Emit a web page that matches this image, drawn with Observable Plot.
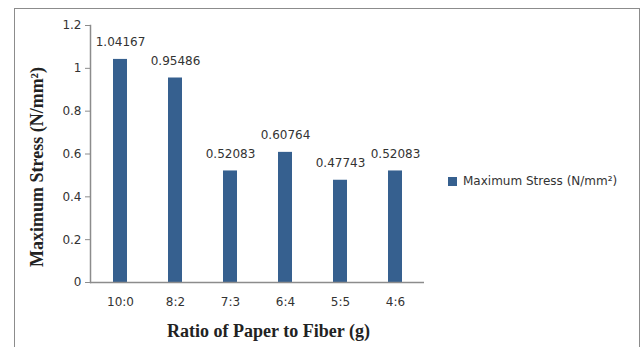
<!DOCTYPE html>
<html>
<head>
<meta charset="utf-8">
<script src="https://cdn.jsdelivr.net/npm/d3@7"></script>
<script src="https://cdn.jsdelivr.net/npm/@observablehq/plot@0.6"></script>
<style>
  body { margin: 0; background: #fff; }
  #wrap { position: relative; width: 641px; height: 347px; overflow: hidden; }
  #border { position: absolute; left: 14px; top: 8px; width: 624px; height: 400px; border: 1px solid #8c8c8c; pointer-events: none; }
  #legend { position: absolute; left: 448px; top: 174px; font: 12px "DejaVu Sans", sans-serif; color: #333; display: flex; align-items: center; }
  #legend .sw { width: 9px; height: 9px; margin-right: 6px; }
</style>
</head>
<body>
<div id="wrap">
  <div id="chart"></div>
  <div id="border"></div>
  <div id="legend"><span class="sw"></span><span class="lt"></span></div>
</div>
<script>
const categories = ["10:0", "8:2", "7:3", "6:4", "5:5", "4:6"];
const stress = [1.04167, 0.95486, 0.52083, 0.60764, 0.47743, 0.52083];
const valueLabels = ["1.04167", "0.95486", "0.52083", "0.60764", "0.47743", "0.52083"];
const yTicks = [0, 0.2, 0.4, 0.6, 0.8, 1, 1.2];
const yTickLabels = ["0", "0.2", "0.4", "0.6", "0.8", "1", "1.2"];
const seriesName = "Maximum Stress (N/mm²)";
const xTitle = "Ratio of Paper to Fiber (g)";
const yTitle = "Maximum Stress (N/mm²)";
const barColor = "#36608F";

const data = categories.map((c, i) => ({cat: c, v: stress[i], lab: valueLabels[i]}));
const tickFmt = new Map(yTicks.map((t, i) => [t, yTickLabels[i]]));

const plot = Plot.plot({
  width: 641,
  height: 347,
  marginLeft: 90,
  marginRight: 217,
  marginTop: 25,
  marginBottom: 65,
  style: {fontFamily: "DejaVu Sans, sans-serif", fontSize: "12px", color: "#333", background: "transparent"},
  x: {domain: categories, paddingInner: 0.75, paddingOuter: 0.375, align: 0.5},
  y: {domain: [0, 1.2]},
  marks: [
    Plot.barY(data, {x: "cat", y: "v", fill: barColor}),
    Plot.ruleY([0], {stroke: "#8c8c8c", strokeWidth: 1.5}),
    Plot.axisY({ticks: yTicks, tickFormat: d => tickFmt.get(d), tickSize: 5, tickPadding: 4, stroke: "#8c8c8c", label: null, fontSize: 12}),
    Plot.frame({anchor: "left", stroke: "#8c8c8c", strokeWidth: 1.5}),
    Plot.axisX({tickSize: 0, tickPadding: 15, label: null, fontSize: 12}),
    Plot.text(data, {x: "cat", y: "v", text: "lab", dy: -17, fill: "#333", fontSize: 12}),
    Plot.text([xTitle], {frameAnchor: "bottom", textAnchor: "middle", dy: 54, dx: 11, fontFamily: "Liberation Serif, serif", fontWeight: "bold", fontSize: 18, fill: "#222"}),
    Plot.text([yTitle], {frameAnchor: "left", textAnchor: "middle", rotate: -90, dx: -53, dy: 13, fontFamily: "Liberation Serif, serif", fontWeight: "bold", fontSize: 18, fill: "#222"})
  ]
});
document.getElementById("chart").appendChild(plot);
document.querySelector("#legend .sw").style.background = barColor;
document.querySelector("#legend .lt").textContent = seriesName;
</script>
</body>
</html>
